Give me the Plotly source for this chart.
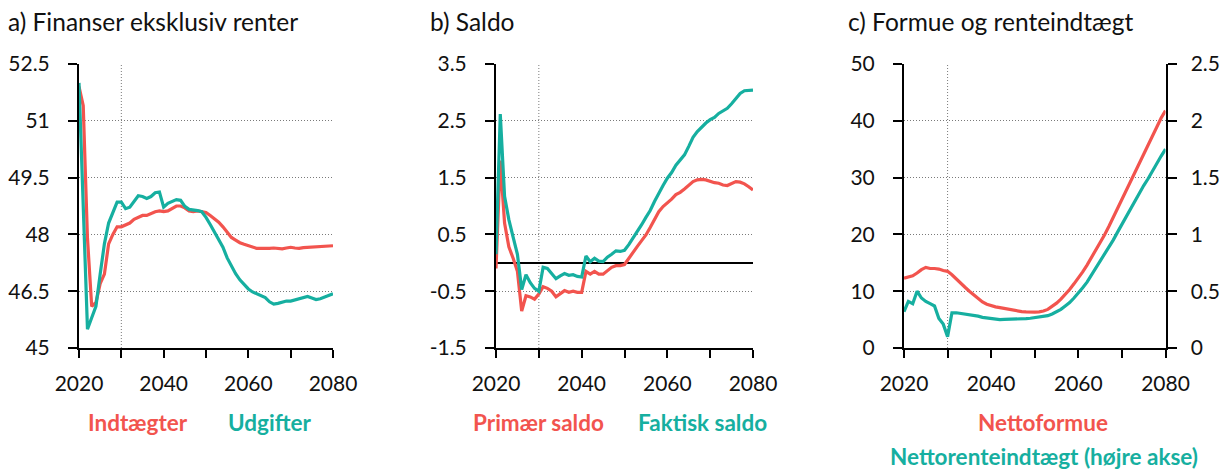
import plotly.graph_objects as go

W, H = 1221, 469
FONT = "Lato"
RED = "#F2544E"
TEAL = "#16AFA0"
GRID = "#7a7a7a"

years = list(range(2020, 2081))

# Panel a) Finanser eksklusiv renter
indtaegter = [51.9, 51.4, 47.9, 46.1, 46.2, 46.7, 46.95, 47.75, 48.0, 48.2,
              48.2, 48.25, 48.3, 48.4, 48.45, 48.5, 48.5, 48.55, 48.6, 48.62,
              48.6, 48.62, 48.68, 48.75, 48.75, 48.7, 48.62, 48.6, 48.62, 48.6,
              48.58, 48.5, 48.42, 48.32, 48.2, 48.05, 47.92, 47.85, 47.78, 47.74,
              47.7, 47.66, 47.63, 47.63, 47.62, 47.63, 47.64, 47.63, 47.62, 47.64,
              47.66, 47.64, 47.63, 47.65, 47.66, 47.67, 47.67, 47.68, 47.7, 47.71,
              47.7]
udgifter = [52.0, 48.75, 45.5, 45.8, 46.1, 46.95, 47.75, 48.3, 48.55, 48.85,
            48.85, 48.68, 48.72, 48.88, 49.02, 49.0, 48.95, 49.0, 49.1, 49.12,
            48.72, 48.82, 48.86, 48.92, 48.9, 48.74, 48.66, 48.65, 48.63, 48.6,
            48.45, 48.26, 48.05, 47.86, 47.66, 47.38, 47.15, 46.96, 46.8, 46.68,
            46.56, 46.48, 46.43, 46.4, 46.33, 46.22, 46.16, 46.18, 46.22, 46.24,
            46.24, 46.27, 46.3, 46.34, 46.36, 46.32, 46.28, 46.3, 46.34, 46.38,
            46.43]

# Panel b) Saldo
primaer_saldo = [-0.1, 1.8, 0.7, 0.28, 0.08, -0.15, -0.85, -0.58, -0.6, -0.64,
                 -0.55, -0.42, -0.45, -0.5, -0.6, -0.55, -0.49, -0.52, -0.5, -0.52,
                 -0.52, -0.15, -0.2, -0.15, -0.2, -0.2, -0.14, -0.08, -0.05, -0.05,
                 -0.03, 0.08, 0.2, 0.29, 0.39, 0.49, 0.62, 0.76, 0.9, 0.99,
                 1.05, 1.12, 1.2, 1.24, 1.3, 1.37, 1.43, 1.46, 1.47, 1.46,
                 1.43, 1.41, 1.4, 1.37, 1.36, 1.4, 1.43, 1.42, 1.39, 1.34,
                 1.28]
faktisk_saldo = [0.15, 2.62, 1.17, 0.76, 0.45, 0.15, -0.47, -0.21, -0.35, -0.45,
                 -0.5, -0.08, -0.1, -0.18, -0.28, -0.23, -0.19, -0.22, -0.21, -0.24,
                 -0.25, 0.12, 0.02, 0.08, 0.03, 0.02, 0.1, 0.15, 0.21, 0.2,
                 0.22, 0.32, 0.43, 0.55, 0.67, 0.8, 0.92, 1.08, 1.23, 1.36,
                 1.49, 1.59, 1.72, 1.82, 1.9, 2.05, 2.21, 2.31, 2.39, 2.46,
                 2.52, 2.56, 2.63, 2.68, 2.72, 2.8, 2.9, 2.98, 3.03, 3.04,
                 3.04]

# Panel c) Formue og renteindtaegt
nettoformue = [12.3, 12.5, 12.7, 13.2, 13.8, 14.2, 14.0, 14.0, 13.9, 13.65,
               13.5, 12.9, 12.1, 11.5, 10.7, 10.0, 9.4, 8.7, 8.1, 7.7,
               7.4, 7.25, 7.1, 6.95, 6.8, 6.65, 6.5, 6.4, 6.35, 6.3,
               6.3, 6.35, 6.5, 6.8, 7.3, 7.9, 8.6, 9.4, 10.3, 11.3,
               12.3, 13.4, 14.6, 15.9, 17.2, 18.6, 19.9, 21.4, 23.0, 24.6,
               26.2, 27.8, 29.5, 31.1, 32.7, 34.3, 35.9, 37.5, 39.1, 40.5,
               41.8]
nettorenteindtaegt = [0.32, 0.41, 0.39, 0.5, 0.44, 0.41, 0.39, 0.37, 0.26, 0.21,
                      0.1, 0.31, 0.31, 0.305, 0.3, 0.29, 0.285, 0.28, 0.27, 0.265,
                      0.255, 0.25, 0.25, 0.252, 0.252, 0.253, 0.253, 0.255, 0.258, 0.262,
                      0.267, 0.27, 0.275, 0.285, 0.3, 0.32, 0.34, 0.37, 0.4, 0.44,
                      0.48, 0.53, 0.58, 0.64, 0.7, 0.76, 0.82, 0.88, 0.95, 1.02,
                      1.09, 1.16, 1.23, 1.29, 1.36, 1.43, 1.49, 1.56, 1.62, 1.69,
                      1.75]

x_tickvals = list(range(2020, 2081, 10))
x_ticktext = ["2020", "", "2040", "", "2060", "", "2080"]
ya_ticks = [45, 46.5, 48, 49.5, 51, 52.5]
yb_ticks = [-1.5, -0.5, 0.5, 1.5, 2.5, 3.5]
yc_ticks = [0, 10, 20, 30, 40, 50]
yc2_ticks = [0, 0.5, 1, 1.5, 2, 2.5]
yc2_text = ["0", "0.5", "1", "1.5", "2", "2.5"]

titles = ["a) Finanser eksklusiv renter", "b) Saldo", "c) Formue og renteindtægt"]

fig = go.Figure()
lw = 3.2
fig.add_trace(go.Scatter(x=years, y=indtaegter, mode="lines", line=dict(color=RED, width=lw), xaxis="x", yaxis="y"))
fig.add_trace(go.Scatter(x=years, y=udgifter, mode="lines", line=dict(color=TEAL, width=lw), xaxis="x", yaxis="y"))
fig.add_trace(go.Scatter(x=years, y=primaer_saldo, mode="lines", line=dict(color=RED, width=lw), xaxis="x2", yaxis="y2"))
fig.add_trace(go.Scatter(x=years, y=faktisk_saldo, mode="lines", line=dict(color=TEAL, width=lw), xaxis="x2", yaxis="y2"))
fig.add_trace(go.Scatter(x=years, y=nettoformue, mode="lines", line=dict(color=RED, width=lw), xaxis="x3", yaxis="y3"))
fig.add_trace(go.Scatter(x=years, y=nettorenteindtaegt, mode="lines", line=dict(color=TEAL, width=lw), xaxis="x3", yaxis="y4"))

def px(v):
    return v / W

ydom = [(H - 348) / H, (H - 64) / H]
tickfont = dict(family=FONT, size=21, color="#111")

def xax(x0, x1, anchor):
    return dict(domain=[px(x0), px(x1)], anchor=anchor, range=[2020, 2080],
                tickvals=x_tickvals, ticktext=x_ticktext, ticks="outside",
                ticklen=8, tickwidth=2, tickcolor="black", showline=True,
                linecolor="black", linewidth=2, showgrid=False, zeroline=False,
                tickfont=tickfont, fixedrange=True, automargin=False,
                ticklabelstandoff=8)

def yax(anchor, rng, tv, tt=None, side="left", grid=True, overlay=None):
    d = dict(domain=ydom, anchor=anchor, range=rng, tickvals=tv,
             ticks="outside", ticklen=9, tickwidth=2, tickcolor="black",
             showline=True, linecolor="black", linewidth=2,
             showgrid=grid, gridcolor=GRID, gridwidth=1, griddash="1px,2px",
             zeroline=False, tickfont=tickfont, side=side, fixedrange=True,
             automargin=False, ticklabelstandoff=14)
    if tt is not None:
        d["ticktext"] = tt
    if overlay:
        d["overlaying"] = overlay
    return d

layout = dict(
    width=W, height=H, margin=dict(l=0, r=0, t=0, b=0),
    paper_bgcolor="white", plot_bgcolor="white", showlegend=False,
    font=dict(family=FONT, size=18, color="#111"),
    xaxis=xax(79, 333, "y"),
    yaxis=yax("x", [45, 52.5], ya_ticks, [str(v) for v in ya_ticks]),
    xaxis2=xax(496, 753, "y2"),
    yaxis2=yax("x2", [-1.5, 3.5], yb_ticks, [str(v) for v in yb_ticks]),
    xaxis3=xax(904, 1165.5, "y3"),
    yaxis3=yax("x3", [0, 50], yc_ticks),
    yaxis4=yax("x3", [0, 2.5], yc2_ticks, yc2_text, side="right", grid=False, overlay="y3"),
)
layout["yaxis2"]["zeroline"] = True
layout["yaxis2"]["zerolinecolor"] = "black"
layout["yaxis2"]["zerolinewidth"] = 2
layout["yaxis4"]["ticklabelstandoff"] = 10
fig.update_layout(**layout)

# vertical dotted reference at 2030 in each panel
for xr, yr in [("x", "y domain"), ("x2", "y2 domain"), ("x3", "y3 domain")]:
    fig.add_shape(type="line", xref=xr, yref=yr, x0=2030, x1=2030, y0=0, y1=1,
                  line=dict(color=GRID, width=1, dash="1px,2px"), layer="below")

# panel titles
for t, x in zip(titles, [6, 428, 846]):
    fig.add_annotation(text=t, xref="paper", yref="paper", x=px(x), y=1 - 22 / H,
                       xanchor="left", yanchor="middle", showarrow=False,
                       font=dict(family=FONT, size=24.5, color="#111"))

# legend labels
legend_items = [("Indtægter", RED, 138, 422), ("Udgifter", TEAL, 270, 422),
                ("Primær saldo", RED, 538, 422), ("Faktisk saldo", TEAL, 702, 422),
                ("Nettoformue", RED, 1043, 422),
                ("Nettorenteindtægt (højre akse)", TEAL, 1044, 456)]
for t, c, x, y in legend_items:
    fig.add_annotation(text="<b>" + t + "</b>", xref="paper", yref="paper", x=px(x), y=1 - y / H,
                       xanchor="center", yanchor="middle", showarrow=False,
                       font=dict(family=FONT, size=22.5, color=c))

fig.write_html("out.html", config={"displayModeBar": False},
               post_script="document.body.style.margin='0';document.body.style.overflow='hidden';")
